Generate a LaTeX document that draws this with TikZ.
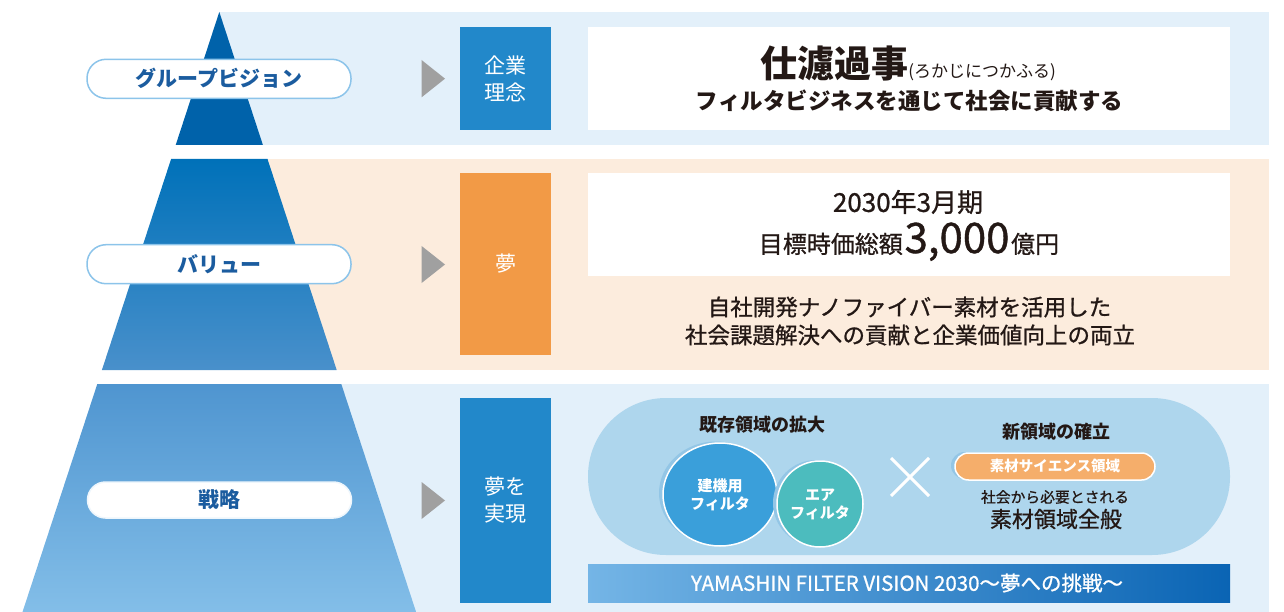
\documentclass[tikz,border=0pt]{standalone}
\usepackage{fontspec}
\setmainfont{Noto Sans CJK JP}
\newfontfamily\medfont[FakeBold=0.9]{Noto Sans CJK JP}
\usetikzlibrary{shapes.geometric}
\definecolor{bandblue}{HTML}{E3F0FA}
\definecolor{bandpeach}{HTML}{FCECDD}
\definecolor{pyrA}{HTML}{0062AA}
\definecolor{pyrB1}{HTML}{0071B9}
\definecolor{pyrB2}{HTML}{4990CB}
\definecolor{pyrC1}{HTML}{4F95D0}
\definecolor{pyrC2}{HTML}{83BEE8}
\definecolor{pillline}{HTML}{8CC4EA}
\definecolor{pilltext}{HTML}{1B5C9F}
\definecolor{arrowgray}{HTML}{A0A0A0}
\definecolor{boxblue}{HTML}{2288CA}
\definecolor{boxorange}{HTML}{F29A46}
\definecolor{darktext}{HTML}{231815}
\definecolor{bigpill}{HTML}{AED6ED}
\definecolor{circA}{HTML}{3A9FDA}
\definecolor{circB}{HTML}{4CBCBE}
\definecolor{orangepill}{HTML}{F5AE6B}
\definecolor{shadowblue}{HTML}{93C6E6}
\definecolor{barL}{HTML}{74B5E6}
\definecolor{barR}{HTML}{0A64B4}
\newcommand\FS[1]{\fontsize{#1}{#1}\selectfont}
\begin{document}
\begin{tikzpicture}[x=1pt,y=-1pt,
  every node/.style={inner sep=0pt,outer sep=0pt},
  labelpill/.style={draw=pillline,line width=1.5pt,fill=white,rounded corners=19pt,minimum width=264pt,minimum height=39pt,text=pilltext,font=\FS{21}\bfseries},
  graytri/.style={fill=arrowgray},
  catbox/.style={fill=boxblue,minimum width=91pt,text=white,font=\FS{21},align=center},
  whitebox/.style={fill=white,minimum width=642pt,minimum height=103pt},
  darkt/.style={text=darktext,align=center}]
\useasboundingbox (0,0) rectangle (1284,612);
% bands
\fill[bandblue] (219.3,12) rectangle (1269,145);
\fill[bandpeach] (219.3,159) rectangle (1269,370);
\fill[bandblue] (219.3,384) rectangle (1269,612);
% pyramid
\fill[pyrA] (219.3,12) -- (262.9,145) -- (175.7,145) -- cycle;
\shade[top color=pyrB1,bottom color=pyrB2] (171.1,159) -- (267.5,159) -- (336.7,370) -- (101.9,370) -- cycle;
\shade[top color=pyrC1,bottom color=pyrC2] (97.3,384) -- (341.3,384) -- (416.1,612) -- (22.5,612) -- cycle;
% pills
\node[labelpill] (p1) at (219,78.8) {グループビジョン};
\node[labelpill] (p2) at (219,264.2) {バリュー};
\node[labelpill,draw=white!85!pillline,minimum height=36pt,rounded corners=18pt] (p3) at (219.5,500) {戦略};
% gray arrows
\fill[graytri] (421.6,60) -- (445,78.7) -- (421.6,97.3) -- cycle;
\fill[graytri] (421.6,246) -- (445,264.5) -- (421.6,283) -- cycle;
\fill[graytri] (421.6,482) -- (445,500.5) -- (421.6,519) -- cycle;
% category boxes
\node[catbox,minimum height=103pt] (c1) at (505.5,78.5) {企業\\[6pt]理念};
\node[catbox,fill=boxorange,minimum height=182pt] (c2) at (505.5,264) {夢};
\node[catbox,minimum height=205pt] (c3) at (505.5,500.5) {夢を\\[6pt]実現};
% row 1
\node[whitebox] (w1) at (909,78.5) {};
\node[darkt,anchor=base] (t1) at (908,78) {{\FS{37}\bfseries 仕濾過事}{\FS{17}(ろかじにつかふる)}};
\node[darkt,font=\FS{22.5}\bfseries] (t2) at (909.5,101) {フィルタビジネスを通じて社会に貢献する};
% row 2
\node[whitebox] (w2) at (909,224.5) {};
\node[darkt,font=\FS{26}\medfont] (t3) at (908,202) {2030年3月期};
\node[darkt,anchor=base,font=\medfont] (t4) at (909,253) {{\FS{24}目標時価総額}\,{\FS{42}3,000}\,{\FS{24}億円}};
\node[darkt,font=\FS{22.5}\medfont] (t5) at (909.5,307) {自社開発ナノファイバー素材を活用した};
\node[darkt,font=\FS{22.5}\medfont] (t6) at (910,335) {社会課題解決への貢献と企業価値向上の両立};
% row 3
\fill[bigpill,rounded corners=78pt] (588,398) rectangle (1230,555);
\node[darkt,font=\FS{18}\bfseries] (t7) at (762,425) {既存領域の拡大};
\node[darkt,font=\FS{18}\bfseries] (t8) at (1056,432) {新領域の確立};
\fill[shadowblue] (716,493) ellipse [x radius=57pt,y radius=51.5pt];
\node[ellipse,fill=circA,draw=white,line width=1.5pt,minimum width=114pt,minimum height=103pt,text=white,font=\FS{15}\bfseries,align=center] (e1) at (720,494.5) {建機用\\[3pt]フィルタ};
\fill[shadowblue] (816,503) circle [radius=43pt];
\node[ellipse,fill=circB,draw=white,line width=1.5pt,minimum width=86pt,minimum height=86pt,text=white,font=\FS{15}\bfseries,align=center] (e2) at (820,504) {エア\\[3pt]フィルタ};
\coordinate (x1) at (891,458);
\coordinate (x2) at (929,496);
\coordinate (x3) at (929,458);
\coordinate (x4) at (891,496);
\draw[white,line width=3pt] (x1) -- (x2) (x3) -- (x4);
\fill[shadowblue,rounded corners=13.5pt] (951,452) rectangle (1151,479);
\node[fill=orangepill,draw=white,line width=1.5pt,rounded corners=13.5pt,minimum width=200pt,minimum height=27pt,text=white,font=\FS{14.5}\bfseries] (op) at (1055,466.5) {素材サイエンス領域};
\node[darkt,font=\FS{14.8}\medfont] (t9) at (1055,497) {社会から必要とされる};
\node[darkt,font=\FS{22}\medfont] (t10) at (1056,519) {素材領域全般};
\shade[left color=barL,right color=barR] (588,564) rectangle (1230,602);
\node[text=white,font=\FS{20.5}\medfont] (t11) at (907,583) {YAMASHIN FILTER VISION 2030～夢への挑戦～};
\end{tikzpicture}
\end{document}
